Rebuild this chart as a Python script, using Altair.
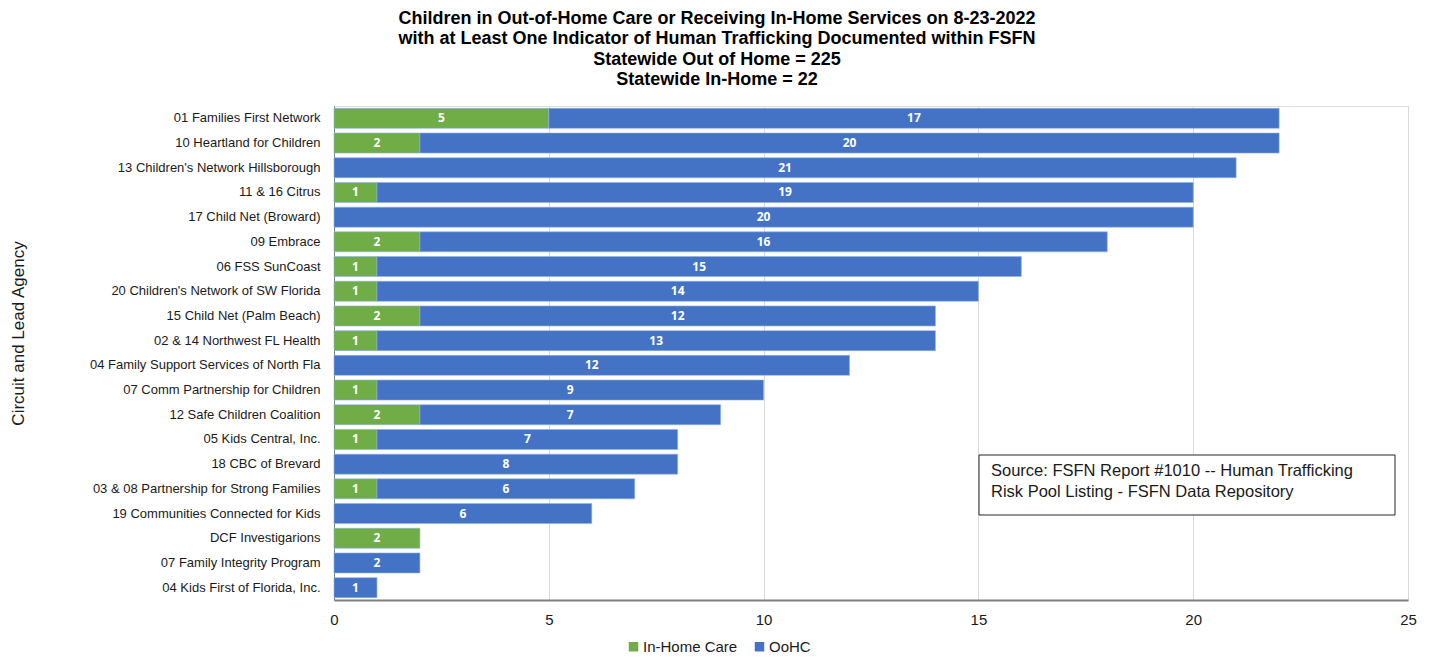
import altair as alt
import pandas as pd

agencies = [
    "01 Families First Network",
    "10 Heartland for Children",
    "13 Children's Network Hillsborough",
    "11 & 16 Citrus",
    "17 Child Net (Broward)",
    "09 Embrace",
    "06 FSS SunCoast",
    "20 Children's Network of SW Florida",
    "15 Child Net (Palm Beach)",
    "02 & 14 Northwest FL Health",
    "04 Family Support Services of North Fla",
    "07 Comm Partnership for Children",
    "12 Safe Children Coalition",
    "05 Kids Central, Inc.",
    "18 CBC of Brevard",
    "03 & 08 Partnership for Strong Families",
    "19 Communities Connected for Kids",
    "DCF Investigarions",
    "07 Family Integrity Program",
    "04 Kids First of Florida, Inc.",
]
in_home = [5, 2, 0, 1, 0, 2, 1, 1, 2, 1, 0, 1, 2, 1, 0, 1, 0, 2, 0, 0]
oohc = [17, 20, 21, 19, 20, 16, 15, 14, 12, 13, 12, 9, 7, 7, 8, 6, 6, 0, 2, 1]
series = ["In-Home Care", "OoHC"]
colors = ["#70AD47", "#4472C4"]
x_ticks = [0, 5, 10, 15, 20, 25]

title_lines = [
    "Children in Out-of-Home Care or Receiving In-Home Services on 8-23-2022",
    "with at Least One Indicator of Human Trafficking Documented within FSFN",
    "Statewide Out of Home = 225",
    "Statewide In-Home = 22",
]
source_text = "Source: FSFN Report #1010 -- Human Trafficking\nRisk Pool Listing - FSFN Data Repository"

rows = []
for a, ih, oo in zip(agencies, in_home, oohc):
    if ih > 0:
        rows.append({"agency": a, "series": series[0], "value": ih, "ord": 0})
    if oo > 0:
        rows.append({"agency": a, "series": series[1], "value": oo, "ord": 1})
df = pd.DataFrame(rows)

FONT = "Liberation Sans, Arial"
xscale = alt.Scale(domain=[0, 25], nice=False, zero=True)

base = alt.Chart(df).transform_stack(
    stack="value", groupby=["agency"], as_=["x0", "x1"],
    sort=[alt.SortField("ord", order="ascending")]
).transform_calculate(mid="(datum.x0 + datum.x1) / 2")

yscale = alt.Scale(paddingInner=0.19, paddingOuter=0.095)
yenc = alt.Y(
    "agency:N", sort=agencies, scale=yscale,
    axis=alt.Axis(
        title="Circuit and Lead Agency", labelFont=FONT, labelFontSize=13,
        labelColor="#1a1a1a", ticks=False, labelPadding=14, domainColor="#7f7f7f",
        titleFont=FONT, titleFontSize=17, titleFontWeight="normal",
        titleColor="#1a1a1a", titleX=-316, titleY=227, titleAngle=-90,
        titleAlign="center", titleBaseline="middle", labelLimit=400,
    ),
)

bars = base.mark_bar(stroke="#8fb4e3", strokeWidth=0.6).encode(
    x=alt.X(
        "x0:Q", scale=xscale,
        axis=alt.Axis(
            values=x_ticks, title=None, ticks=False, labelFlush=False,
            labelFont=FONT, labelFontSize=15, labelColor="#1a1a1a",
            labelPadding=12, gridColor="#d9d9d9", domainColor="#7f7f7f",
            domainWidth=2,
        ),
    ),
    x2="x1:Q",
    y=yenc,
    color=alt.Color(
        "series:N", scale=alt.Scale(domain=series, range=colors),
        legend=alt.Legend(
            title=None, orient="none", direction="horizontal", legendX=292,
            legendY=533, symbolType="square", symbolSize=90, labelFont=FONT,
            labelFontSize=15, labelColor="#1a1a1a", symbolStrokeWidth=0,
            columnPadding=14, labelOffset=2,
        ),
    ),
)

labels = base.mark_text(
    color="white", fontWeight="bold", fontSize=12, font="Open Sans, Liberation Sans"
).encode(
    x=alt.X("mid:Q", scale=xscale),
    y=alt.Y("agency:N", sort=agencies, scale=yscale),
    text=alt.Text("value:Q"),
)

box_df = pd.DataFrame({"t": [source_text]})
box = alt.Chart(box_df).mark_rect(fill="white", stroke="#262626", strokeWidth=1).encode(
    x=alt.value(645), x2=alt.value(1061), y=alt.value(349), y2=alt.value(409)
)
src = alt.Chart(box_df).mark_text(
    align="left", baseline="middle", font=FONT, fontSize=16.5, color="#1a1a1a",
    lineBreak="\n", lineHeight=21,
).encode(
    x=alt.value(657),
    y=alt.value(365),
    text="t:N",
)

chart = alt.layer(bars, labels, box, src).properties(
    width=1074,
    height=494,
    padding={"left": 326, "top": 98, "right": 18, "bottom": 57},
    autosize=alt.AutoSizeParams(type="none"),
    title=alt.TitleParams(
        text=title_lines, font=FONT, fontSize=18, fontWeight="bold", color="#000000",
        anchor="middle", dx=-154, offset=17, lineHeight=20.5,
    ),
).configure_view(stroke="#7f7f7f", strokeWidth=1).configure(background="white")

chart.save("out.html", embed_options={"renderer": "svg", "actions": False})
